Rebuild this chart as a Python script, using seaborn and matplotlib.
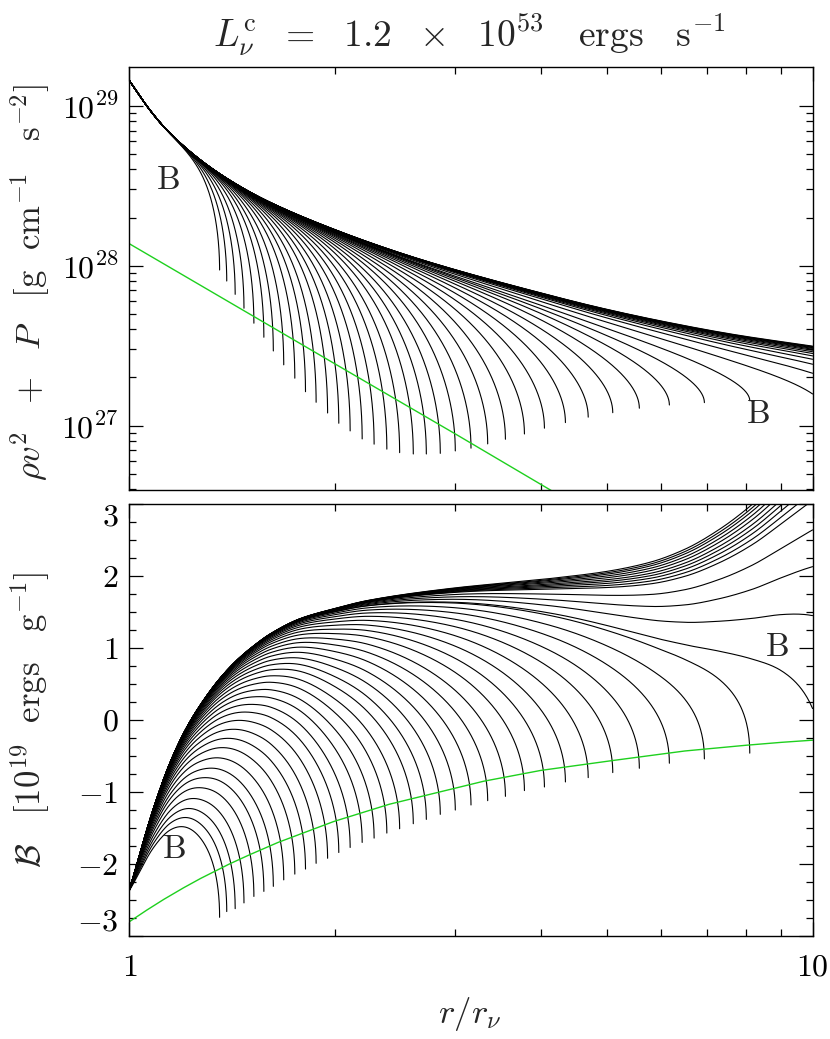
import numpy as np
import pandas as pd
import matplotlib
matplotlib.use('Agg')
import matplotlib.pyplot as plt
import seaborn as sns
from matplotlib.ticker import FixedLocator, FixedFormatter, NullFormatter, MultipleLocator

# ---- values ----
# radius (r / r_nu) where each closed curve stops, left to right
r_stop = [1.355, 1.388, 1.428, 1.471, 1.521, 1.573, 1.624, 1.682, 1.746, 1.810,
          1.876, 1.950, 2.025, 2.104, 2.191, 2.281, 2.381, 2.486, 2.603, 2.720,
          2.851, 2.999, 3.162, 3.345, 3.551, 3.786, 4.050, 4.347, 4.694, 5.099,
          5.577, 6.171, 6.944, 8.092]
# rho v^2 + P at those end points (units of 1e27)
p_stop = [9.40, 8.02, 6.62, 5.42, 4.37, 3.57, 2.93, 2.40, 1.98, 1.63,
          1.40, 1.20, 1.035, 0.927, 0.826, 0.766, 0.713, 0.678, 0.665, 0.665,
          0.671, 0.695, 0.723, 0.769, 0.822, 0.887, 0.964, 1.045, 1.130, 1.205,
          1.285, 1.346, 1.393, 1.432]
# Bernoulli value at those end points (units of 1e19)
b_stop = [-2.74, -2.66, -2.62, -2.54, -2.45, -2.38, -2.31, -2.22, -2.14, -2.07,
          -1.99, -1.92, -1.84, -1.77, -1.70, -1.64, -1.57, -1.51, -1.44, -1.38,
          -1.31, -1.25, -1.18, -1.12, -1.06, -0.98, -0.93, -0.86, -0.80, -0.73,
          -0.67, -0.60, -0.54, -0.46]

# curves that run out of the frame: guessed stop radius beyond r = 10
r_beyond = [10.4, 12.5, 15.5, 20, 27, 38, 55, 80, 120, 180, 270, 400, 600, 900]
# their rho v^2 + P at r = 10 (1e27)
p_edge = [1.578, 2.126, 2.421, 2.600, 2.729, 2.825, 2.897, 2.958, 3.004, 3.041,
          3.073, 3.097, 3.119, 3.141]
# Bernoulli at r = 10 for the lowest four, the rest leave through the top (B = 3) at r_exit
b_edge = [0.16, 1.45, 2.13, 2.64]
r_exit = [9.83, 9.51, 9.25, 9.04, 8.86, 8.68, 8.53, 8.39, 8.28, 8.17]

# upper edge of the bundle in each panel
env_r_top = [1.0, 1.073, 1.136, 1.271, 1.422, 1.591, 2.0, 2.5, 2.955, 3.91, 4.90, 6.13, 7.69, 10.0]
env_p_top = [143.2, 93.1, 70.0, 45.7, 33.0, 25.4, 16.8, 12.0, 9.66, 7.00, 5.52, 4.52, 3.81, 3.26]
env_r_bot = [1.0, 1.085, 1.148, 1.215, 1.285, 1.36, 1.44, 1.52, 1.61, 1.78, 2.0, 2.23,
             2.955, 4.14, 5.0, 5.79, 6.5, 7.28, 8.14, 9.0, 10.0]
env_b_bot = [-2.36, -1.22, -0.58, -0.09, 0.28, 0.59, 0.84, 1.03, 1.20, 1.41, 1.55, 1.66,
             1.83, 1.97, 2.07, 2.20, 2.38, 2.65, 3.0, 3.40, 3.85]

# green curves
green_r_top = [1.0, 2.0, 3.0, 4.2]
green_p_top = [13.7, 2.43, 0.887, 0.38]
green_r_bot = [1.0, 1.06, 1.123, 1.2, 1.271, 1.4, 1.5, 1.65, 1.99, 2.4, 3.3, 4.0,
               5.12, 6.5, 8.0, 9.0, 10.0]
green_b_bot = [-2.80, -2.64, -2.49, -2.33, -2.20, -2.00, -1.87, -1.70, -1.41, -1.17,
               -0.85, -0.70, -0.56, -0.43, -0.35, -0.31, -0.28]

# label positions of the "B" marks
b_marks_top = [(1.137, 3.43e28), (8.33, 1.17e27)]
b_marks_bot = [(1.16, -1.80), (8.86, 1.01)]


def pchip(x, y, xq):
    x = np.asarray(x, float)
    y = np.asarray(y, float)
    xq = np.atleast_1d(np.asarray(xq, float))
    h = np.diff(x)
    d = np.diff(y) / h
    m = np.zeros_like(y)
    for i in range(1, len(x) - 1):
        if d[i - 1] * d[i] > 0:
            w1 = 2 * h[i] + h[i - 1]
            w2 = h[i] + 2 * h[i - 1]
            m[i] = (w1 + w2) / (w1 / d[i - 1] + w2 / d[i])
    m[0], m[-1] = d[0], d[-1]
    idx = np.clip(np.searchsorted(x, xq) - 1, 0, len(x) - 2)
    t = (xq - x[idx]) / h[idx]
    h00 = 2 * t**3 - 3 * t**2 + 1
    h10 = t**3 - 2 * t**2 + t
    h01 = -2 * t**3 + 3 * t**2
    h11 = t**3 - t**2
    return h00 * y[idx] + h10 * h[idx] * m[idx] + h01 * y[idx + 1] + h11 * h[idx] * m[idx + 1]


def env_top(lr):
    return pchip(np.log10(env_r_top), np.log10(env_p_top), lr)


def env_bot(lr):
    return pchip(np.log10(env_r_bot), env_b_bot, lr)


def bend(u, k):
    # 0 at the inner edge, 1 with a vertical tangent at the stop radius
    return 1 - np.sqrt(np.clip(1 - np.asarray(u, float)**k, 0, 1))


# build the long table of curves
frames = []
r_all = list(r_stop) + list(r_beyond)
n_stop = len(r_stop)
for i, R in enumerate(r_all):
    lR = np.log10(R)
    if i < n_stop:
        s = np.linspace(0, 1, 500)
        lr = lR * (1 - (1 - s)**2.5)
        top_a = (lR, np.log10(p_stop[i]))
        bot_a = (lR, b_stop[i])
    else:
        j = i - n_stop
        lr = np.linspace(0, 1, 500)
        top_a = (1.0, np.log10(p_edge[j]))
        if j < len(b_edge):
            bot_a = (1.0, b_edge[j])
        else:
            bot_a = (np.log10(r_exit[j - len(b_edge)]), 3.0)
    q = np.interp(lR, [0.13, 0.5, 0.91], [6.0, 4.2, 2.5])
    p = np.interp(lR, [0.13, 0.91], [0.9, 3.3])
    a_top = (env_top(top_a[0])[0] - top_a[1]) / bend(top_a[0] / lR, q)
    a_bot = (env_bot(bot_a[0])[0] - bot_a[1]) / bend(bot_a[0] / lR, p)
    logp = env_top(lr) - a_top * bend(lr / lR, q)
    bern = env_bot(lr) - a_bot * bend(lr / lR, p)
    frames.append(pd.DataFrame({'curve': i, 'r': 10**lr,
                                'P': 10**(logp + 27), 'B': bern}))
df = pd.concat(frames, ignore_index=True)

green_top = pd.DataFrame({'r': green_r_top, 'P': np.array(green_p_top) * 1e27})
green_bot = pd.DataFrame({'r': green_r_bot, 'B': green_b_bot})

# ---- plotting ----
sns.set_style('ticks')
plt.rcParams.update({
    'font.family': 'serif',
    'font.serif': ['cmr10', 'DejaVu Serif'],
    'mathtext.fontset': 'cm',
    'axes.formatter.use_mathtext': True,
    'axes.edgecolor': 'black',
    'axes.linewidth': 1.0,
})

fig = plt.figure(figsize=(8.3, 10.39), dpi=100)
ax1 = fig.add_axes([0.156, 0.5284, 0.823, 0.4071])
ax2 = fig.add_axes([0.156, 0.0991, 0.823, 0.4158])

for ax in (ax1, ax2):
    ax.set_xscale('log')
ax1.set_yscale('log')

sns.lineplot(data=df, x='r', y='P', units='curve', estimator=None, sort=False,
             color='black', lw=0.8, legend=False, ax=ax1)
sns.lineplot(data=green_top, x='r', y='P', estimator=None, sort=False,
             color='#1ed01e', lw=1.0, ax=ax1)
sns.lineplot(data=df, x='r', y='B', units='curve', estimator=None, sort=False,
             color='black', lw=0.8, legend=False, ax=ax2)
sns.lineplot(data=green_bot, x='r', y='B', estimator=None, sort=False,
             color='#1ed01e', lw=1.0, ax=ax2)

ax1.set_xlim(1, 10)
ax2.set_xlim(1, 10)
ax1.set_ylim(3.96e26, 1.746e29)
ax2.set_ylim(-3, 3)

for ax in (ax1, ax2):
    ax.set_xlabel('')
    ax.set_ylabel('')
    ax.xaxis.set_major_locator(FixedLocator([1, 10]))
    ax.xaxis.set_minor_locator(FixedLocator([2, 3, 4, 5, 6, 7, 8, 9]))
    ax.xaxis.set_minor_formatter(NullFormatter())
    ax.tick_params(which='both', direction='in', top=True, right=True,
                   width=0.9, colors='black', labelsize=23)
    ax.tick_params(which='major', length=10)
    ax.tick_params(which='minor', length=5)
    ax.tick_params(axis='x', pad=13)
    ax.tick_params(axis='y', pad=8)
    for sp in ax.spines.values():
        sp.set_linewidth(1.0)

ax1.xaxis.set_major_formatter(NullFormatter())
ax2.xaxis.set_major_formatter(FixedFormatter([r'$1$', r'$10$']))

ax1.yaxis.set_major_locator(FixedLocator([1e27, 1e28, 1e29]))
ax1.yaxis.set_major_formatter(FixedFormatter([r'$10^{27}$', r'$10^{28}$', r'$10^{29}$']))
ax1.yaxis.set_minor_locator(FixedLocator(
    [m * 10.0**e for e in (26, 27, 28) for m in range(2, 10)]))
ax1.yaxis.set_minor_formatter(NullFormatter())

ax2.yaxis.set_major_locator(FixedLocator([-3, -2, -1, 0, 1, 2, 3]))
ax2.yaxis.set_major_formatter(FixedFormatter(
    [r'$-3$', r'$-2$', r'$-1$', r'$0$', r'$1$', r'$2$', r'$3$']))
ax2.yaxis.set_minor_locator(MultipleLocator(0.25))
labs = ax2.get_yticklabels()
labs[0].set_va('bottom')
labs[-1].set_va('top')

for x, y in b_marks_top:
    ax1.text(x, y, r'$\mathrm{B}$', fontsize=24, ha='center', va='center')
for x, y in b_marks_bot:
    ax2.text(x, y, r'$\mathrm{B}$', fontsize=24, ha='center', va='center')

fig.text(0.566, 0.955,
         r'$L_{\nu}^{\rm c}\ \ =\ \ 1.2\ \ \times\ \ 10^{53}\ \ \ {\rm ergs\ \ \ s^{-1}}$',
         fontsize=27, ha='center', va='baseline')
fig.text(0.036, 0.728, r'$\rho v^2\ \ +\ \ P\ \ \ [{\rm g\ \ cm^{-1}\ \ \ s^{-2}}]$',
         fontsize=25, rotation=90, ha='center', va='center')
fig.text(0.036, 0.307, r'$\mathcal{B}\ \ \ [10^{19}\ \ {\rm ergs\ \ \ g^{-1}}]$',
         fontsize=25, rotation=90, ha='center', va='center')
fig.text(0.566, 0.024, r'$r/r_{\nu}$', fontsize=25, ha='center', va='center')

fig.savefig('out.png', dpi=100)
